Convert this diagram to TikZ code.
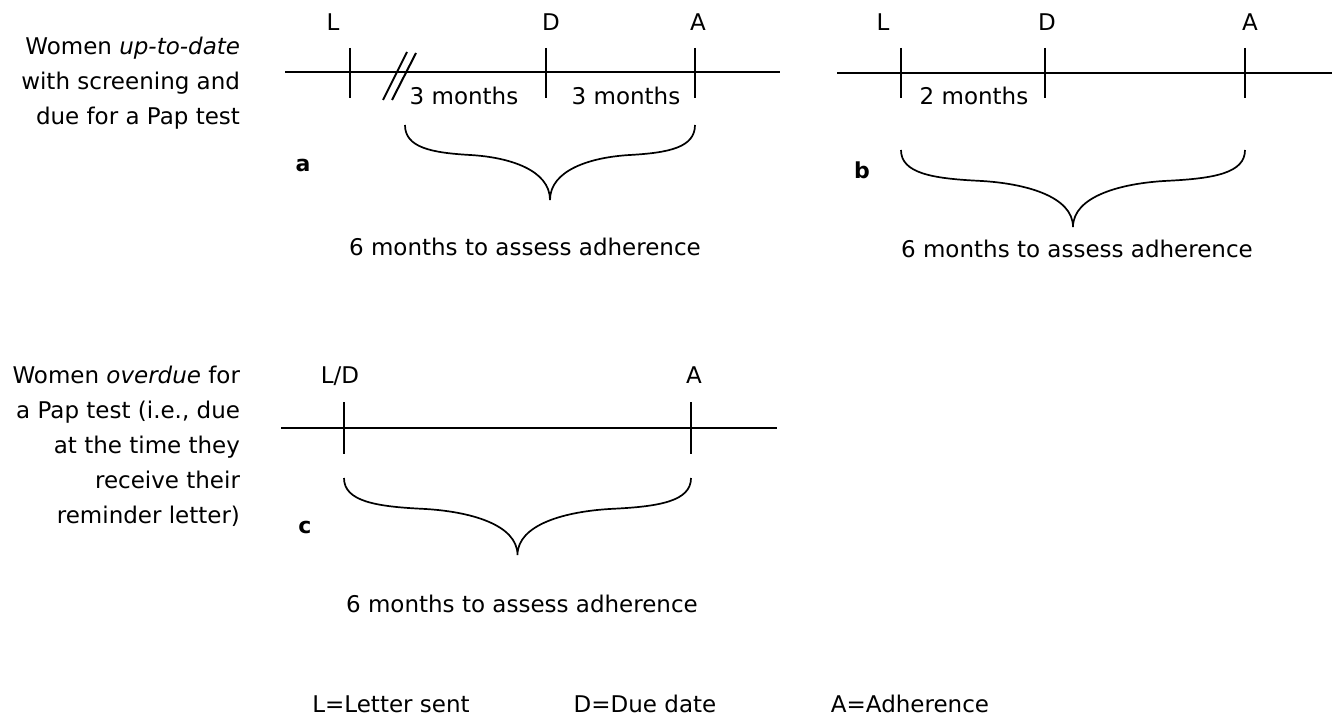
\documentclass[tikz,border=0pt]{standalone}
\usepackage{fontspec}
\setmainfont{DejaVu Sans}
\begin{document}
\begin{tikzpicture}[x=1pt,y=-1pt,line width=2pt,
  txt/.style={inner sep=0pt,anchor=base,font=\fontsize{23}{35}\selectfont},
  tag/.style={inner sep=0pt,anchor=base,font=\fontsize{22}{26}\selectfont\bfseries},
  curly/.pic={\draw[line width=1.7pt] (0,0) .. controls (0,0.3) and (0.18,0.37) .. (0.45,0.4)
     .. controls (0.72,0.43) and (1,0.6) .. (1,1)
     .. controls (1,0.6) and (1.28,0.43) .. (1.55,0.4)
     .. controls (1.82,0.37) and (2,0.3) .. (2,0);}]
\useasboundingbox (0,0) rectangle (1339,719);

% descriptions on the left
\node[txt,anchor=north east,align=right] (uptodate) at (241,36.5) {Women \textit{up-to-date}\\with screening and\\due for a Pap test};
\node[txt,anchor=north east,align=right] (overdue) at (241,365.5) {Women \textit{overdue} for\\a Pap test (i.e., due\\at the time they\\receive their\\reminder letter)};

% panel a
\coordinate (a0) at (285,72);
\coordinate (a1) at (780,72);
\draw (a0) -- (a1);
\foreach \x in {350,546,695} \draw (\x,48) -- (\x,98);
\draw (383,100) -- (407,52);
\draw (392,100) -- (416,53);
\node[txt] (aL) at (333,31) {L};
\node[txt] (aD) at (551,31) {D};
\node[txt] (aA) at (698,31) {A};
\node[txt] (amonths1) at (464,105) {3 months};
\node[txt] (amonths2) at (626,105) {3 months};
\pic[xscale=145,yscale=75] at (405,125) {curly};
\node[tag] (atag) at (303,172) {a};
\node[txt] (asum) at (525,256) {6 months to assess adherence};

% panel b
\coordinate (b0) at (837,73);
\coordinate (b1) at (1332,73);
\draw (b0) -- (b1);
\foreach \x in {901,1045,1245} \draw (\x,48) -- (\x,98);
\node[txt] (bL) at (883,31) {L};
\node[txt] (bD) at (1047,31) {D};
\node[txt] (bA) at (1250,31) {A};
\node[txt] (bmonths) at (974,105) {2 months};
\pic[xscale=172,yscale=77] at (901,150) {curly};
\node[tag] (btag) at (862,179) {b};
\node[txt] (bsum) at (1077,258) {6 months to assess adherence};

% panel c
\coordinate (c0) at (281,428);
\coordinate (c1) at (777,428);
\draw (c0) -- (c1);
\foreach \x in {344,691} \draw (\x,402) -- (\x,454);
\node[txt] (cLD) at (340,383) {L/D};
\node[txt] (cA) at (694,383) {A};
\pic[xscale=173.5,yscale=77] at (344,478) {curly};
\node[tag] (ctag) at (305,533) {c};
\node[txt] (csum) at (522,612) {6 months to assess adherence};

% legend
\node[txt] (keyL) at (391,712) {L=Letter sent};
\node[txt] (keyD) at (645,712) {D=Due date};
\node[txt] (keyA) at (910,712) {A=Adherence};
\end{tikzpicture}
\end{document}
